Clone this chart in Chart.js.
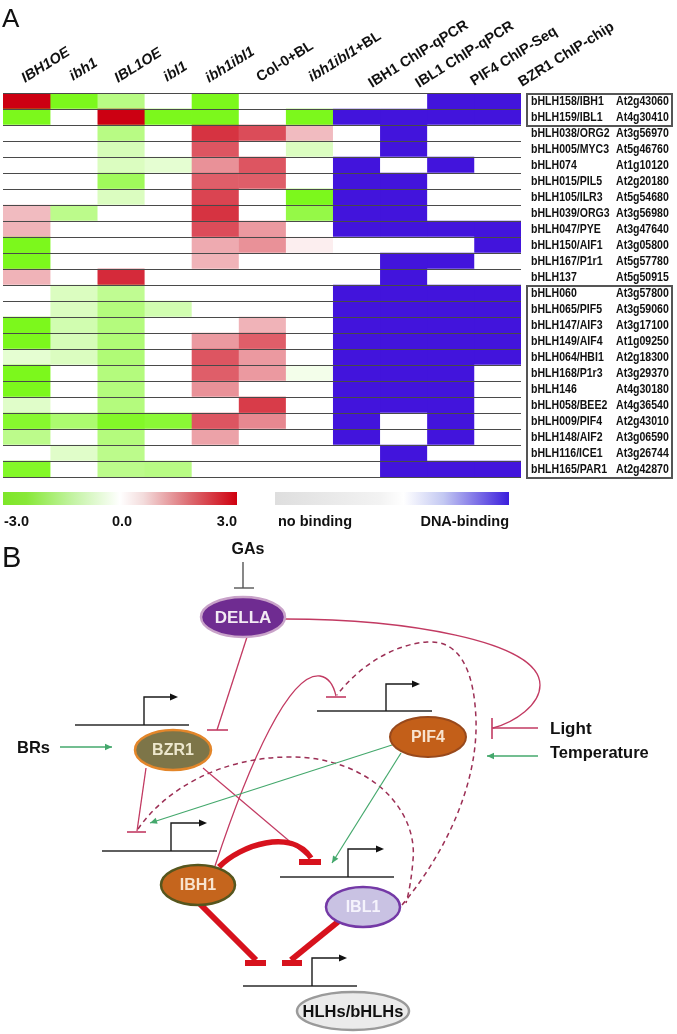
<!DOCTYPE html>
<html><head><meta charset="utf-8">
<script src="https://cdn.jsdelivr.net/npm/chart.js@4.4.1/dist/chart.umd.min.js"></script>
<style>html,body{margin:0;padding:0;background:#fff;overflow:hidden}canvas{display:block}</style>
</head><body>
<canvas id="c" width="677" height="1034"></canvas>
<script>
// ---------- DATA ----------
const columns = ['IBH1OE','ibh1','IBL1OE','ibl1','ibh1ibl1','Col-0+BL','ibh1ibl1+BL','IBH1 ChIP-qPCR','IBL1 ChIP-qPCR','PIF4 ChIP-Seq','BZR1 ChIP-chip'];
const genes = ['bHLH158/IBH1','bHLH159/IBL1','bHLH038/ORG2','bHLH005/MYC3','bHLH074','bHLH015/PIL5','bHLH105/ILR3','bHLH039/ORG3','bHLH047/PYE','bHLH150/AIF1','bHLH167/P1r1','bHLH137','bHLH060','bHLH065/PIF5','bHLH147/AIF3','bHLH149/AIF4','bHLH064/HBI1','bHLH168/P1r3','bHLH146','bHLH058/BEE2','bHLH009/PIF4','bHLH148/AIF2','bHLH116/ICE1','bHLH165/PAR1'];
const agiCodes = ['At2g43060','At4g30410','At3g56970','At5g46760','At1g10120','At2g20180','At5g54680','At3g56980','At3g47640','At3g05800','At5g57780','At5g50915','At3g57800','At3g59060','At3g17100','At1g09250','At2g18300','At3g29370','At4g30180','At4g36540','At2g43010','At3g06590','At3g26744','At2g42870'];
// log2 fold change (-3 .. 3)
const exprIBH1OE   = [3,-3,0,0,0,0,0,0.8,0.9,-3,-3,0.9,0,0,-3,-3,-0.4,-3,-3,-0.5,-2.7,-1.3,0,-2.8];
const exprIbh1     = [-3,0,0,0,0,0,0,-1.3,0,0,0,0,-0.6,-0.6,-0.8,-0.7,-0.6,0,0,0,-1.7,0,-0.5,0];
const exprIBL1OE   = [-1.4,3,-1.4,-0.7,-0.6,-2,-0.6,0,0,0,0,2.5,-1.2,-1.5,-1.5,-1.6,-1.6,-1.5,-1.5,-1.5,-2.8,-1.5,-1.3,-1.3];
const exprIbl1     = [0,-3,0,0,-0.4,0,0,0,0,0,0,0,0,-0.8,0,0,0,0,0,0,-2.6,0,0,-1.4];
const exprIbh1ibl1 = [-3,-3,2.4,2,1.3,1.9,2.2,2.4,2.1,1.0,0.9,0,0,0,0,1.2,2.0,1.9,1.3,0,2.0,1.1,0,0];
const exprCol0BL   = [0,0,2.1,0,2.0,1.9,0,0,1.2,1.3,0,0,0,0,0.9,1.9,1.2,1.2,0,2.3,1.4,0,0,0];
const exprIbh1ibl1BL = [0,-3,0.8,-0.6,0,0,-3,-2.3,0,0.2,0,0,0,0,0,0,0,-0.15,0,0,0,0,0,0];
// DNA binding (1 = binding)
const bindIBH1 = [0,1,0,0,1,1,1,1,1,0,0,0,1,1,1,1,1,1,1,1,1,1,0,0];
const bindIBL1 = [0,1,1,1,0,1,1,1,1,0,1,1,1,1,1,1,1,1,1,1,0,0,1,1];
const bindPIF4 = [1,1,0,0,1,0,0,0,1,0,1,0,1,1,1,1,1,1,1,1,1,1,0,1];
const bindBZR1 = [1,1,0,0,0,0,0,0,1,1,0,0,1,1,1,1,1,0,0,0,0,0,0,1];
const exprTicks = ['-3.0','0.0','3.0'];
const bindTicks = ['no binding','DNA-binding'];

// ---------- COLOURS ----------
function exprColor(v){
  let r,g,b;
  if(v>=0){const t=Math.min(v/3,1); r=255+(204-255)*t; g=255*(1-t); b=255+(18-255)*t;}
  else {const t=Math.pow(Math.min(-v/3,1),0.8); r=255+(124-255)*t; g=255+(248-255)*t; b=255+(28-255)*t;}
  return `rgb(${Math.round(r)},${Math.round(g)},${Math.round(b)})`;
}
function bindColor(b){ return b ? '#4214dc' : '#ffffff'; }

const exprSeries = [exprIBH1OE,exprIbh1,exprIBL1OE,exprIbl1,exprIbh1ibl1,exprCol0BL,exprIbh1ibl1BL];
const bindSeries = [bindIBH1,bindIBL1,bindPIF4,bindBZR1];

const datasets = columns.map((name,i)=>{
  const vals = i<7 ? exprSeries[i] : bindSeries[i-7];
  return {
    label:name,
    data: genes.map(()=>[i,i+1]),
    backgroundColor: vals.map(v=> i<7 ? exprColor(v) : bindColor(v)),
    borderWidth:0, barPercentage:1, categoryPercentage:1, grouped:false
  };
});

const FONT = '"Liberation Sans", Arial, Helvetica, sans-serif';

function txt(ctx,s,x,y,font,color,align,base,maxW){
  ctx.font=font; ctx.fillStyle=color; ctx.textAlign=align||'left'; ctx.textBaseline=base||'middle';
  if(maxW) ctx.fillText(s,x,y,maxW); else ctx.fillText(s,x,y);
}
function ln(ctx,x1,y1,x2,y2,color,w,dash){
  ctx.beginPath(); ctx.strokeStyle=color; ctx.lineWidth=w; ctx.setLineDash(dash||[]);
  ctx.moveTo(x1,y1); ctx.lineTo(x2,y2); ctx.stroke(); ctx.setLineDash([]);
}
function head(ctx,x,y,ang,size,color){
  ctx.save(); ctx.translate(x,y); ctx.rotate(ang); ctx.fillStyle=color;
  ctx.beginPath(); ctx.moveTo(0,0); ctx.lineTo(-size,-size*0.45); ctx.lineTo(-size,size*0.45); ctx.closePath(); ctx.fill(); ctx.restore();
}
function arrow(ctx,x1,y1,x2,y2,color,w,size){
  ln(ctx,x1,y1,x2,y2,color,w);
  head(ctx,x2,y2,Math.atan2(y2-y1,x2-x1),size,color);
}
function promoter(ctx,x1,x2,y,ax,ay,aend){
  ln(ctx,x1,y,x2,y,'#2a2a2a',1.4);
  ctx.beginPath(); ctx.strokeStyle='#1a1a1a'; ctx.lineWidth=1.4;
  ctx.moveTo(ax,y); ctx.lineTo(ax,ay); ctx.lineTo(aend-6,ay); ctx.stroke();
  head(ctx,aend,ay,0,8,'#111');
}
function ell(ctx,cx,cy,rx,ry,fill,stroke,lw,label,tc,font){
  ctx.beginPath(); ctx.ellipse(cx,cy,rx,ry,0,0,Math.PI*2);
  ctx.fillStyle=fill; ctx.fill(); ctx.lineWidth=lw; ctx.strokeStyle=stroke; ctx.stroke();
  txt(ctx,label,cx,cy+1,font,tc,'center','middle');
}

function drawPanelB(ctx){
  const rose='#c23a62', dashC='#9c2f55', red='#d7121d', green='#44a86c';
  txt(ctx,'B',2,567,'29px '+FONT,'#111','left','alphabetic');
  // GAs
  txt(ctx,'GAs',248,550,'bold 16px '+FONT,'#111','center','middle');
  ln(ctx,243,562,243,588,'#555',1.4);
  ln(ctx,234,588,254,588,'#555',1.4);
  // Light / Temperature
  txt(ctx,'Light',550,729,'bold 17px '+FONT,'#111','left','middle');
  txt(ctx,'Temperature',550,753,'bold 16.5px '+FONT,'#111','left','middle');
  ln(ctx,492,728,538,728,rose,1.4);
  ln(ctx,492,718,492,739,rose,1.6);
  arrow(ctx,538,756,487,756,green,1.3,7);
  // BRs
  txt(ctx,'BRs',17,748,'bold 16.5px '+FONT,'#111','left','middle');
  arrow(ctx,60,747,112,747,green,1.3,7);
  // DELLA -> Light T-bar curve
  ctx.beginPath(); ctx.strokeStyle=rose; ctx.lineWidth=1.3;
  ctx.moveTo(285,619); ctx.bezierCurveTo(400,619,540,640,540,685);
  ctx.bezierCurveTo(540,705,515,722,493,728); ctx.stroke();
  // DELLA -| BZR1
  ln(ctx,247,637,217,730,rose,1.3);
  ln(ctx,207,730,228,730,rose,1.6);
  // promoters
  promoter(ctx,75,189,725,144,697,178);
  promoter(ctx,317,432,711,386,684,420);
  promoter(ctx,102,217,851,171,823,207);
  promoter(ctx,280,394,877,348,849,384);
  promoter(ctx,243,357,986,312,958,347);
  // T-bar at PIF4 promoter
  ln(ctx,326,697,346,697,rose,1.6);
  // IBH1 thin solid curve to PIF4 promoter
  ctx.beginPath(); ctx.strokeStyle=rose; ctx.lineWidth=1.3;
  ctx.moveTo(215,866); ctx.bezierCurveTo(250,760,290,672,320,676);
  ctx.quadraticCurveTo(332,678,336,696); ctx.stroke();
  // dashed IBL1 -> PIF4 promoter
  ctx.beginPath(); ctx.strokeStyle=dashC; ctx.lineWidth=1.5; ctx.setLineDash([5,4]);
  ctx.moveTo(402,905); ctx.bezierCurveTo(440,860,478,790,476,720);
  ctx.bezierCurveTo(474,662,455,640,427,642);
  ctx.bezierCurveTo(395,644,360,665,337,695); ctx.stroke();
  // dashed IBL1 -> IBH1 promoter
  ctx.beginPath();
  ctx.moveTo(138,829); ctx.bezierCurveTo(165,790,220,757,290,757);
  ctx.bezierCurveTo(370,757,418,810,413,860);
  ctx.quadraticCurveTo(411,885,406,903); ctx.stroke(); ctx.setLineDash([]);
  // BZR1 -| IBH1 promoter
  ln(ctx,146,768,137,831,rose,1.3);
  ln(ctx,127,832,146,832,rose,1.6);
  // BZR1 -> IBL1 promoter (thin)
  ln(ctx,203,768,307,856,rose,1.2);
  // PIF4 green arrows
  arrow(ctx,392,745,150,823,green,1.2,7);
  arrow(ctx,401,753,332,863,green,1.2,7);
  // thick IBH1 -| IBL1 promoter
  ctx.beginPath(); ctx.strokeStyle=red; ctx.lineWidth=5.5; ctx.lineCap='butt';
  ctx.moveTo(219,867); ctx.bezierCurveTo(240,845,292,828,311,858); ctx.stroke();
  ctx.fillStyle=red; ctx.fillRect(299,859,22,6);
  // thick IBH1 -| HLHs, IBL1 -| HLHs
  ln(ctx,200,904,256,960,red,6);
  ctx.fillStyle=red; ctx.fillRect(245,960,21,6);
  ln(ctx,339,921,291,960,red,6);
  ctx.fillStyle=red; ctx.fillRect(282,960,20,6);
  // ellipses
  ell(ctx,243,617,42,20,'#6f2c91','#c9a3c9',2.5,'DELLA','#f3eaf3','bold 17px '+FONT);
  ell(ctx,173,750,38,20,'#7d7548','#e3862a',2.5,'BZR1','#ede7cd','bold 16px '+FONT);
  ell(ctx,428,737,38,20,'#c35f19','#98491c',2,'PIF4','#f8e4cf','bold 16px '+FONT);
  ell(ctx,198,885,37,20,'#c5651d','#56561e',2.5,'IBH1','#f8e4cf','bold 16px '+FONT);
  ell(ctx,363,907,37,20,'#c9c2e3','#7439a6',2.5,'IBL1','#f5f3fc','bold 16px '+FONT);
  ell(ctx,353,1011,56,19,'#ebebeb','#9a9a9a',2.5,'HLHs/bHLHs','#111','bold 16.5px '+FONT);
}

const overlay = {
  id:'overlay',
  afterDraw(chart){
    const ctx=chart.ctx, x=chart.scales.x, y=chart.scales.y, ca=chart.chartArea;
    ctx.save();
    const rowH = y.getPixelForValue(1)-y.getPixelForValue(0);
    // row separator lines
    for(let r=0;r<=genes.length;r++){
      const yy=Math.round(y.getPixelForValue(r)-rowH/2)+0.5;
      ln(ctx,ca.left,yy,ca.right,yy,'#4a4a4a',1);
    }
    // panel letter
    txt(ctx,'A',2,27,'26px '+FONT,'#111','left','alphabetic');
    // column headers (rotated)
    const starts=[[25,83],[73,81],[118,83],[167,82],[209,83],[260,82],[312,82],[372,88],[419,88],[474,86],[522,87]];
    const italic=[true,true,true,true,true,false,'part',false,false,false,false];
    columns.forEach((c,i)=>{
      ctx.save(); ctx.translate(starts[i][0],starts[i][1]); ctx.rotate(-32*Math.PI/180);
      ctx.fillStyle='#111'; ctx.textAlign='left'; ctx.textBaseline='alphabetic';
      if(italic[i]==='part'){
        ctx.font='italic bold 14.5px '+FONT; ctx.fillText('ibh1ibl1',0,0);
        const w=ctx.measureText('ibh1ibl1').width;
        ctx.font='bold 14.5px '+FONT; ctx.fillText('+BL',w,0);
      } else {
        ctx.font=(italic[i]?'italic ':'')+'bold 14.5px '+FONT; ctx.fillText(c,0,0);
      }
      ctx.restore();
    });
    // row labels
    genes.forEach((g,r)=>{
      const yy=y.getPixelForValue(r)+0.5;
      ctx.font='bold 12px '+FONT;
      const w1=ctx.measureText(g).width*0.88, w2=ctx.measureText(agiCodes[r]).width*0.88;
      txt(ctx,g,531,yy,'bold 12px '+FONT,'#111','left','middle',w1);
      txt(ctx,agiCodes[r],616,yy,'bold 12px '+FONT,'#111','left','middle',w2);
    });
    // boxes
    ctx.strokeStyle='#555'; ctx.lineWidth=2;
    const top0=y.getPixelForValue(0)-rowH/2, bot1=y.getPixelForValue(1)+rowH/2;
    ctx.strokeRect(527,top0+1,145,bot1-top0);
    const top12=y.getPixelForValue(12)-rowH/2, bot23=y.getPixelForValue(23)+rowH/2;
    ctx.strokeRect(527,top12+1,145,bot23-top12);
    // colour legends
    const g1=ctx.createLinearGradient(3,0,237,0);
    g1.addColorStop(0,'#7ee628'); g1.addColorStop(0.1,'#88e838'); g1.addColorStop(0.3,'#c4f3a4');
    g1.addColorStop(0.5,'#ffffff'); g1.addColorStop(0.6,'#f3dcdc'); g1.addColorStop(0.8,'#dc6a70'); g1.addColorStop(1,'#cf000f');
    ctx.fillStyle=g1; ctx.fillRect(3,492,234,13);
    const g2=ctx.createLinearGradient(275,0,509,0);
    g2.addColorStop(0,'#dedede'); g2.addColorStop(0.45,'#f3f3f3'); g2.addColorStop(0.55,'#ffffff');
    g2.addColorStop(0.72,'#c3c8f2'); g2.addColorStop(1,'#3b1edc');
    ctx.fillStyle=g2; ctx.fillRect(275,492,234,13);
    const lf='bold 14.5px '+FONT;
    txt(ctx,exprTicks[0],4,522,lf,'#111','left','middle');
    txt(ctx,exprTicks[1],122,522,lf,'#111','center','middle');
    txt(ctx,exprTicks[2],237,522,lf,'#111','right','middle');
    txt(ctx,bindTicks[0],278,522,lf,'#111','left','middle');
    txt(ctx,bindTicks[1],509,522,lf,'#111','right','middle');
    drawPanelB(ctx);
    ctx.restore();
  }
};

new Chart(document.getElementById('c'),{
  type:'bar',
  data:{labels:genes,datasets},
  options:{
    indexAxis:'y', responsive:false, animation:false, devicePixelRatio:1,
    layout:{padding:{left:3,right:156,top:93,bottom:557}},
    scales:{
      x:{type:'linear',min:0,max:11,display:false},
      y:{type:'category',display:false,offset:true}
    },
    plugins:{legend:{display:false},tooltip:{enabled:false}}
  },
  plugins:[overlay]
});
</script>
</body></html>
